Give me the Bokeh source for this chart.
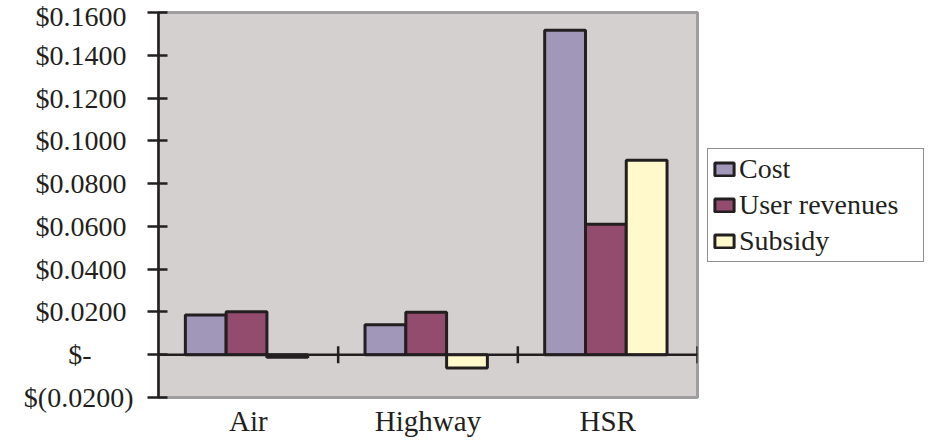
import numpy as np
from bokeh.plotting import figure
from bokeh.models import (Range1d, FixedTicker, Span, Legend, LegendItem,
                          ColumnDataSource)
from bokeh.embed import file_html
from bokeh.resources import INLINE

# ---- data ----
categories = ["Air", "Highway", "HSR"]
cost = [0.0186, 0.0140, 0.1517]
user_revenues = [0.0201, 0.0198, 0.0610]
subsidy = [-0.0012, -0.0062, 0.0909]
series_names = ["Cost", "User revenues", "Subsidy"]
y_ticks = [-0.02, 0.0, 0.02, 0.04, 0.06, 0.08, 0.10, 0.12, 0.14, 0.16]
y_tick_labels = ["$(0.0200)", "$-", "$0.0200", "$0.0400", "$0.0600",
                 "$0.0800", "$0.1000", "$0.1200", "$0.1400", "$0.1600"]

colors = ["#a197b9", "#934c6e", "#fff9cc"]
ink = "#231f20"
FONT = "Liberation Serif"

p = figure(frame_width=539, frame_height=385, output_backend="svg", toolbar_location=None,
           x_range=Range1d(0, len(categories)), y_range=Range1d(-0.02, 0.16),
           min_border_left=158, min_border_right=20, min_border_top=12,
           min_border_bottom=34)
p.background_fill_color = "#d4d0cf"
p.border_fill_color = "white"
p.outline_line_color = "#a09d9e"
p.outline_line_width = 3
p.grid.visible = False

idx = np.arange(len(categories))
bw = 0.227
center = 0.49
items = []
for k, (vals, name, col) in enumerate(zip([cost, user_revenues, subsidy], series_names, colors)):
    src = ColumnDataSource(dict(x=idx + center + (k - 1) * bw, top=vals,
                                bottom=[0.0] * len(vals)))
    r = p.vbar(x="x", top="top", bottom="bottom", width=bw, source=src,
               fill_color=col, line_color=ink, line_width=3)
    items.append(LegendItem(label=name, renderers=[r]))

# zero line with category separators
p.add_layout(Span(location=0, dimension="width", line_color=ink, line_width=2.5))
p.scatter(x=idx + 1, y=[0.0] * len(categories), marker="dash", angle=np.pi / 2,
          size=17, line_color=ink, line_width=2.5)

# y axis
ya = p.yaxis[0]
ya.ticker = FixedTicker(ticks=y_ticks)
nb = "\u00a0"
overrides = {}
for t, lab in zip(y_ticks, y_tick_labels):
    if lab.startswith("$("):
        overrides[t] = lab
    elif lab == "$-":
        overrides[t] = lab + nb * 6
    else:
        overrides[t] = lab + nb
ya.major_label_overrides = overrides
ya.axis_line_color = ink
ya.axis_line_width = 2.5
ya.major_tick_line_color = ink
ya.major_tick_line_width = 2.5
ya.major_tick_in = 9
ya.major_tick_out = 11
ya.minor_tick_line_color = None
ya.major_label_text_font = FONT
ya.major_label_text_font_size = "28px"
ya.major_label_text_color = ink
ya.major_label_standoff = 14

# x axis
xa = p.xaxis[0]
xa.ticker = FixedTicker(ticks=list(idx + 0.5))
xa.major_label_overrides = {float(i + 0.5): c for i, c in enumerate(categories)}
xa.axis_line_color = None
xa.major_tick_line_color = None
xa.minor_tick_line_color = None
xa.major_label_text_font = FONT
xa.major_label_text_font_size = "29px"
xa.major_label_text_color = ink
xa.major_label_standoff = 1

legend = Legend(items=items, location="center_left")
legend.label_text_font = FONT
legend.label_text_font_size = "28px"
legend.label_text_color = ink
legend.glyph_width = 24
legend.glyph_height = 16
legend.label_height = 29
legend.label_width = 180
legend.label_standoff = 3
legend.spacing = 4
legend.padding = 4
legend.margin = 10
legend.border_line_color = ink
legend.border_line_width = 1.5
legend.background_fill_alpha = 1.0
p.add_layout(legend, "right")

open("out.html", "w").write(file_html(p, INLINE))
